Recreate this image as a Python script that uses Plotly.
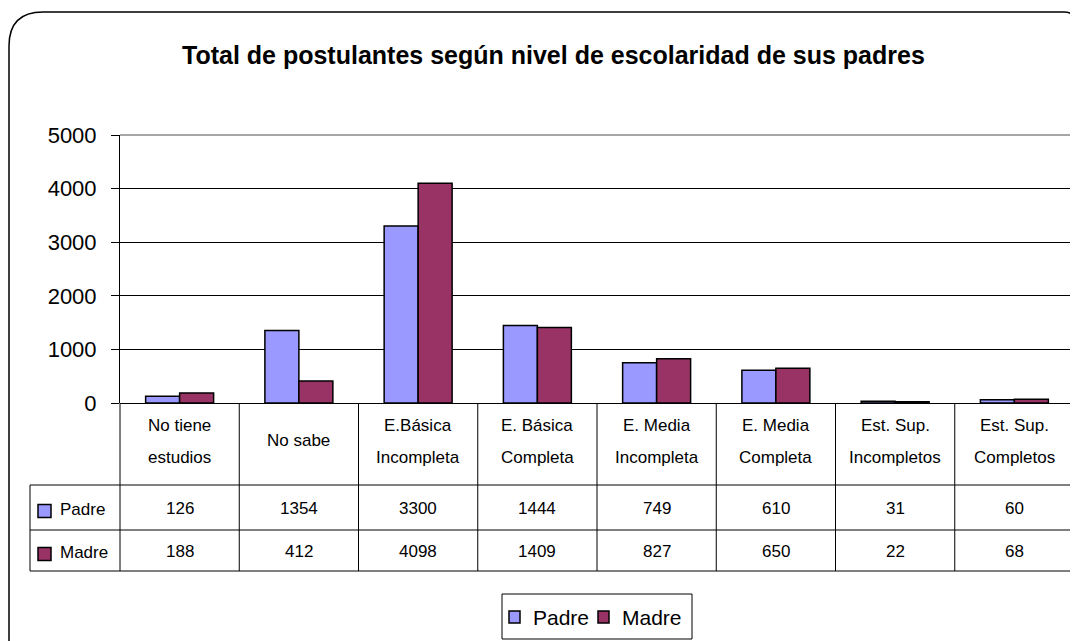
import plotly.graph_objects as go

categories = ["No tiene<br>estudios", "No sabe", "E.Básica<br>Incompleta", "E. Básica<br>Completa",
              "E. Media<br>Incompleta", "E. Media<br>Completa", "Est. Sup.<br>Incompletos", "Est. Sup.<br>Completos"]
padre = [126, 1354, 3300, 1444, 749, 610, 31, 60]
madre = [188, 412, 4098, 1409, 827, 650, 22, 68]
series_names = ["Padre", "Madre"]
colors = ["#9999FF", "#993366"]
y_ticks = [0, 1000, 2000, 3000, 4000, 5000]
title = "Total de postulantes según nivel de escolaridad de sus padres"

OFF = 8  # page body margin
FW, FH = 1078 - OFF, 641 - OFF
PL, PR, PT, PB = 120, 1074, 135, 403  # plot area in page pixels
L, R, T = PL - OFF, 1078 - PR, PT - OFF
B = FH - (PB - OFF)
PW = FW - L - R
PH = FH - T - B

def px(x):
    return (x - PL) / PW

def py(y):
    return (PB - y) / PH

FONT = "Liberation Sans, Arial, sans-serif"
n = len(categories)
xs = list(range(n))

fig = go.Figure()
for name, vals, col in zip(series_names, [padre, madre], colors):
    fig.add_trace(go.Bar(x=xs, y=vals, name=name, marker=dict(color=col, line=dict(color="black", width=1.5)),
                         showlegend=False))

shapes = []
annotations = []

# outer rounded frame
x0, y0, x1 = 9, 12, 1076
r1, r2 = 34, 12
path = (f"M {px(x0)},{py(700)} L {px(x0)},{py(y0+r1)} Q {px(x0)},{py(y0)} {px(x0+r1)},{py(y0)} "
        f"L {px(x1-r2)},{py(y0)} Q {px(x1)},{py(y0)} {px(x1)},{py(y0+r2)} L {px(x1)},{py(700)}")
shapes.append(dict(type="path", path=path, xref="paper", yref="paper", line=dict(color="black", width=1.5)))

# gray top and right borders of plot area
shapes.append(dict(type="line", xref="paper", yref="paper", x0=0, x1=1, y0=1, y1=1, line=dict(color="#888888", width=1.5)))
shapes.append(dict(type="line", xref="paper", yref="paper", x0=1, x1=1, y0=0, y1=1, line=dict(color="#888888", width=1.5)))

# data table
col_w = PW / n
row_head_bot = 485
row1_bot = 530
row2_bot = 571
left_edge = 30
for k in range(n + 1):
    xx = PL + col_w * k
    shapes.append(dict(type="line", xref="paper", yref="paper", x0=px(xx), x1=px(xx), y0=py(PB), y1=py(row2_bot),
                       line=dict(color="black", width=1)))
shapes.append(dict(type="line", xref="paper", yref="paper", x0=px(left_edge), x1=px(left_edge), y0=py(row_head_bot), y1=py(row2_bot),
                   line=dict(color="black", width=1)))
for yy in [row_head_bot, row1_bot, row2_bot]:
    shapes.append(dict(type="line", xref="paper", yref="paper", x0=px(left_edge), x1=1, y0=py(yy), y1=py(yy),
                       line=dict(color="black", width=1)))

# header labels
for i, cat in enumerate(categories):
    cx = px(PL + col_w * (i + 0.5))
    lines = cat.split("<br>")
    ys = [440] if len(lines) == 1 else [425, 457]
    for ln, yy in zip(lines, ys):
        annotations.append(dict(text=ln, x=cx, y=py(yy), xref="paper", yref="paper", showarrow=False,
                                xanchor="center", yanchor="middle", font=dict(size=17, color="black", family=FONT)))

# value rows
row_centers = [508, 551]
for r, (name, vals, col) in enumerate(zip(series_names, [padre, madre], colors)):
    yc = row_centers[r]
    for i, v in enumerate(vals):
        annotations.append(dict(text=str(v), x=px(PL + col_w * (i + 0.5)), y=py(yc), xref="paper", yref="paper",
                                showarrow=False, xanchor="center", yanchor="middle",
                                font=dict(size=17, color="black", family=FONT)))
    shapes.append(dict(type="rect", xref="paper", yref="paper", x0=px(38), x1=px(51), y0=py(yc + 3 - 6.5), y1=py(yc + 3 + 6.5),
                       fillcolor=col, line=dict(color="black", width=1.5)))
    annotations.append(dict(text=name, x=px(58), y=py(yc + 1), xref="paper", yref="paper", showarrow=False,
                            xanchor="left", yanchor="middle", font=dict(size=17, color="black", family=FONT)))

# legend box (manual)
shapes.append(dict(type="rect", xref="paper", yref="paper", x0=px(502), x1=px(692), y0=py(594), y1=py(639),
                   fillcolor="white", line=dict(color="black", width=1)))
leg_items = [(509, 531), (598, 620)]
for (sx, tx), name, col in zip(leg_items, series_names, colors):
    shapes.append(dict(type="rect", xref="paper", yref="paper", x0=px(sx), x1=px(sx + 11), y0=py(611), y1=py(623),
                       fillcolor=col, line=dict(color="black", width=1.5)))
    annotations.append(dict(text=name, x=px(tx), y=py(617), xref="paper", yref="paper", showarrow=False,
                            xanchor="left", yanchor="middle", font=dict(size=21, color="black", family=FONT)))

# title
annotations.append(dict(text=f"<b>{title}</b>", x=px(553), y=py(55), xref="paper", yref="paper", showarrow=False,
                        xanchor="center", yanchor="middle", font=dict(size=25, color="black", family=FONT)))

fig.update_layout(
    width=FW, height=FH,
    margin=dict(l=L, r=R, t=T, b=B, pad=0),
    paper_bgcolor="white", plot_bgcolor="white",
    barmode="group", bargap=0.43, bargroupgap=0,
    font=dict(family=FONT, color="black"),
    shapes=shapes, annotations=annotations,
    xaxis=dict(range=[-0.5, n - 0.5], showticklabels=False, ticks="", showgrid=False, zeroline=False,
               showline=False, fixedrange=True),
    yaxis=dict(range=[0, 5000], tickvals=y_ticks, ticks="outside", ticklen=8, tickcolor="black", tickwidth=1,
               ticklabelstandoff=10,
               showline=True, linecolor="black", linewidth=1, showgrid=True, gridcolor="black", gridwidth=1,
               zeroline=True, zerolinecolor="black", zerolinewidth=1,
               tickfont=dict(size=22, color="black", family=FONT), fixedrange=True),
)

fig.write_html("out.html", config={"displayModeBar": False})
